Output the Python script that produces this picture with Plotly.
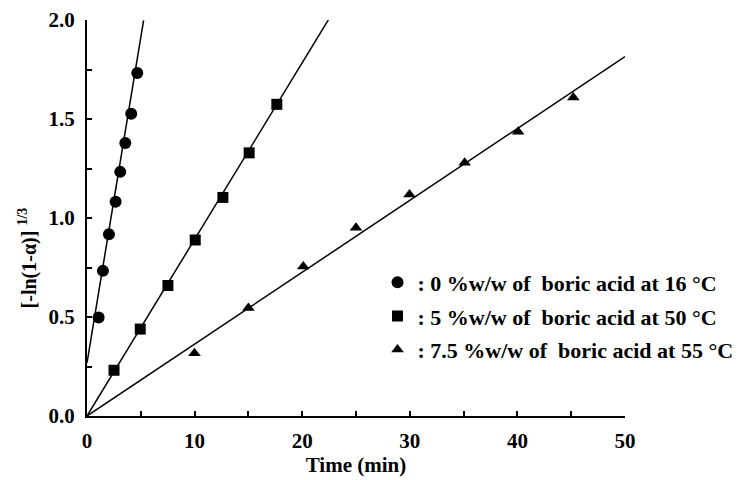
import plotly.graph_objects as go
import numpy as np

# ---- data ----
series_names = [
    ": 0 %w/w of&nbsp; boric acid at 16 °C",
    ": 5 %w/w of&nbsp; boric acid at 50 °C",
    ": 7.5 %w/w of&nbsp; boric acid at 55 °C",
]
t_circle = [1.08, 1.48, 2.04, 2.66, 3.09, 3.56, 4.11, 4.67]
y_circle = [0.498, 0.733, 0.918, 1.082, 1.233, 1.379, 1.527, 1.732]

t_square = [2.51, 4.95, 7.52, 10.06, 12.63, 15.07, 17.64]
y_square = [0.231, 0.439, 0.659, 0.889, 1.104, 1.329, 1.574]

t_triangle = [9.99, 15.0, 20.1, 25.0, 29.97, 35.1, 40.07, 45.2]
y_triangle = [0.317, 0.545, 0.755, 0.951, 1.119, 1.279, 1.435, 1.608]

# fitted straight lines: slope, intercept, x-extent
fit_slope = [0.329, 0.0892, 0.0363]
fit_intercept = [0.268, 0.0, 0.0]
fit_xmax = [5.26, 22.43, 50.0]

x_ticks = [0, 10, 20, 30, 40, 50]
y_ticks = [0.0, 0.5, 1.0, 1.5, 2.0]

FONT = "Liberation Serif"

fig = go.Figure()

symbols = ["circle", "square", "triangle-up"]
sizes = [12, 11, 11]
xs = [t_circle, t_square, t_triangle]
ys = [y_circle, y_square, y_triangle]

for i in range(3):
    lx = np.array([0.0, fit_xmax[i]])
    ly = fit_intercept[i] + fit_slope[i] * lx
    fig.add_trace(go.Scatter(x=lx, y=ly, mode="lines",
                             line=dict(color="black", width=1.5),
                             showlegend=False, hoverinfo="skip"))

for i in range(3):
    fig.add_trace(go.Scatter(x=xs[i], y=ys[i], mode="markers",
                             name=series_names[i],
                             legendgroup=f"g{i}",
                             marker=dict(symbol=symbols[i], size=sizes[i], color="black"),
                             cliponaxis=False))

axis_common = dict(
    showline=True, linecolor="black", linewidth=2,
    ticks="inside", ticklen=5, tickwidth=1.5, tickcolor="black",
    showgrid=False, zeroline=False,
    tickfont=dict(family=FONT, size=21, color="black", weight="bold"),
)

fig.update_xaxes(range=[0, 50], tickvals=x_ticks, ticktext=[str(v) for v in x_ticks],
                 minor=dict(ticks="inside", dtick=5, ticklen=5, tickwidth=1.5, tickcolor="black"),
                 title=dict(text="Time (min)",
                            font=dict(family=FONT, size=21, color="black", weight="bold"),
                            standoff=4),
                 ticklabelstandoff=5,
                 **axis_common)
fig.update_yaxes(range=[0, 2.0], tickvals=y_ticks, ticktext=[f"{v:.1f}" for v in y_ticks],
                 minor=dict(ticks="inside", dtick=0.25, ticklen=5, tickwidth=1.5, tickcolor="black"),
                 ticklabelstandoff=6,
                 **axis_common)

fig.add_annotation(text="[-ln(1-α)] <sup>1/3</sup>", textangle=-90,
                   xref="paper", yref="paper", x=-0.11, y=0.40,
                   xanchor="center", yanchor="middle", showarrow=False,
                   font=dict(family=FONT, size=20, color="black", weight="bold"))

fig.update_layout(
    width=749, height=480,
    margin=dict(l=87, r=124, t=20, b=64, autoexpand=False),
    plot_bgcolor="white", paper_bgcolor="white",
    legend=dict(x=0.54, y=0.39, xanchor="left", yanchor="top",
                font=dict(family=FONT, size=22, color="black", weight="bold"),
                bgcolor="rgba(0,0,0,0)", tracegroupgap=2, traceorder="grouped"),
)

fig.write_html("out.html")
